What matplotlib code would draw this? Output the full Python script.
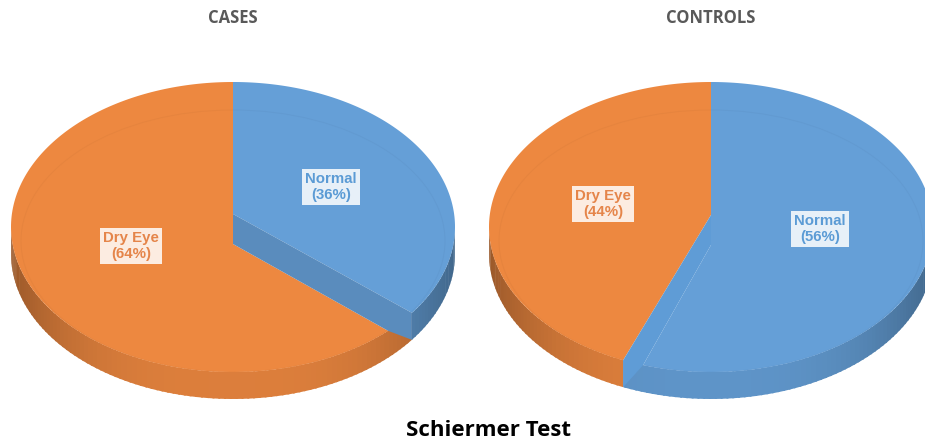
import numpy as np
import matplotlib
matplotlib.use("Agg")
import matplotlib.pyplot as plt
from matplotlib.colors import to_rgb
from matplotlib.patches import Polygon, Ellipse

# data
categories = ["Normal", "Dry Eye"]
cases = [36, 64]
controls = [56, 44]
panel_titles = ["CASES", "CONTROLS"]
main_title = "Schiermer Test"

blue = "#659fd7"
orange = "#ed8840"

# pie shape in pixels
rx = 222
ry = 145
cy = 227
depth = 27


def point(cx, deg, drop=0):
    t = np.radians(deg)
    return cx + rx*np.sin(t), cy - ry*np.cos(t) + drop


def arc(cx, a, b, drop=0):
    angles = np.linspace(a, b, 200)
    return [point(cx, d, drop) for d in angles]


def shade(col, f):
    return tuple(c*f for c in to_rgb(col))


def draw_rim(ax, cx, a, b, col):
    # outer side of the pie, a bit darker towards the edges
    steps = np.arange(a, b, 1.5)
    for d in steps:
        e = min(d + 2, b)
        f = 0.93 - 0.28*abs(np.sin(np.radians(d)))**3
        pts = [point(cx, d), point(cx, e), point(cx, e, depth), point(cx, d, depth)]
        ax.add_patch(Polygon(pts, fc=shade(col, f), ec="none", zorder=2))


def draw_pie(ax, cx, values, title, blue_apex, orange_apex, blue_end, orange_start, wall_col):
    split = 360*values[0]/sum(values)
    rim_split = max(split + blue_end, split + orange_start)
    if blue_apex < orange_apex:
        rim_split = split + blue_end

    draw_rim(ax, cx, 90, rim_split, blue)
    draw_rim(ax, cx, rim_split, 270, orange)

    # top faces
    a_blue = split + blue_end
    a_orange = split + orange_start
    blue_face = Polygon([(cx, blue_apex)] + arc(cx, 0, a_blue), fc=blue, ec="none", zorder=3)
    orange_face = Polygon([(cx, orange_apex)] + arc(cx, a_orange, 360), fc=orange, ec="none", zorder=3)
    ax.add_patch(blue_face)
    ax.add_patch(orange_face)

    # faint ring on the top face
    for face, col in [(blue_face, blue), (orange_face, orange)]:
        ring = Ellipse((cx, cy + 14), 2*rx - 20, 2*ry - 28, fc="none",
                       ec=shade(col, 0.97), lw=0.7, zorder=4)
        ax.add_patch(ring)
        ring.set_clip_path(face)

    # cut wall between the two slices
    if blue_apex < orange_apex:
        up = (cx, blue_apex)
        low = (cx, orange_apex)
        a_up, a_low = a_blue, a_orange
    else:
        up = (cx, orange_apex)
        low = (cx, blue_apex)
        a_up, a_low = a_orange, a_blue
    wall = [up, point(cx, a_up), point(cx, a_up, depth), point(cx, a_low), low]
    ax.add_patch(Polygon(wall, fc=wall_col, ec="none", zorder=5))

    ax.text(cx, 18, title, ha="center", va="center", color="#595959",
            fontsize=12, fontweight="bold", family="Open Sans")


def label(ax, x, y, name, value, col):
    ax.text(x, y, name + "\n(" + str(value) + "%)", ha="center", va="center",
            color=col, fontsize=10.8, fontweight="bold", family="Liberation Sans",
            linespacing=1.2, zorder=8,
            bbox=dict(boxstyle="square,pad=0.2", fc="white", ec="none", alpha=0.85))


fig = plt.figure(figsize=(9.25, 4.43), dpi=100)
ax = fig.add_axes([0, 0, 1, 1])
ax.set_xlim(0, 925)
ax.set_ylim(443, 0)
ax.axis("off")

draw_pie(ax, 233, cases, panel_titles[0], 214, 244, -3.3, 6.1, "#5a8cbd")
draw_pie(ax, 711, controls, panel_titles[1], 245, 215, -3.8, 1.7, "#5f9cd6")

label(ax, 331, 187, categories[0], cases[0], "#5b9bd5")
label(ax, 131, 246, categories[1], cases[1], "#e5854a")
label(ax, 820, 229, categories[0], controls[0], "#5b9bd5")
label(ax, 603, 204, categories[1], controls[1], "#e5854a")

ax.text(489, 430, main_title, ha="center", va="center", color="black",
        fontsize=16, fontweight="bold", family="Open Sans")

fig.savefig("out.png", dpi=100)
